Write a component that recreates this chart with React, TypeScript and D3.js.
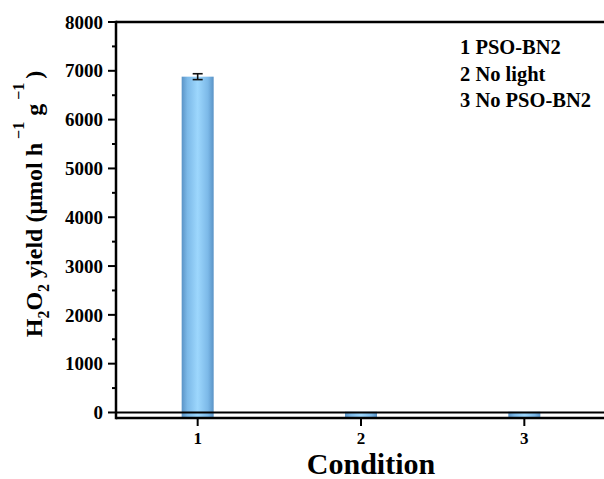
import React from "react";
import * as d3 from "d3";

const categories = [1, 2, 3];
const values = [6880, 15, 15];
const errors = [60, 0, 0];
const yTicks = [0, 1000, 2000, 3000, 4000, 5000, 6000, 7000, 8000];
const yMinorTicks = [500, 1500, 2500, 3500, 4500, 5500, 6500, 7500];
const legendLines = ["1 PSO-BN2", "2 No light", "3 No PSO-BN2"];

const W = 604;
const H = 479;
const FONT = "'Times New Roman', 'Liberation Serif', serif";

export default function App() {
  const x = d3.scaleLinear().domain([0.5, 3.5]).range([116, 606]);
  const y = d3.scaleLinear().domain([-113, 8000]).range([418, 22]);
  const barW = 32;
  const [y0, y1] = y.range();
  const [xl, xr] = x.range();

  return (
    <svg width={W} height={H} style={{ position: "absolute", left: 0, top: 0, background: "#fff" }} fontFamily={FONT}>
      <defs>
        <linearGradient id="barGrad" x1="0" x2="1" y1="0" y2="0">
          <stop offset="0%" stopColor="#5a93c6" />
          <stop offset="18%" stopColor="#7cb9e8" />
          <stop offset="50%" stopColor="#9dd7fd" />
          <stop offset="82%" stopColor="#7cb9e8" />
          <stop offset="100%" stopColor="#5a93c6" />
        </linearGradient>
      </defs>
      {categories.map((c, i) => (
        <rect key={c} x={x(c) - barW / 2} y={y(values[i])} width={barW} height={y0 - y(values[i])} fill="url(#barGrad)" />
      ))}
      {categories.map((c, i) =>
        errors[i] > 0 ? (
          <g key={"e" + c} stroke="#111" strokeWidth={1.6}>
            <line x1={x(c)} x2={x(c)} y1={y(values[i] + errors[i])} y2={y(values[i] - errors[i])} />
            <line x1={x(c) - 5} x2={x(c) + 5} y1={y(values[i] + errors[i])} y2={y(values[i] + errors[i])} />
            <line x1={x(c) - 5} x2={x(c) + 5} y1={y(values[i] - errors[i])} y2={y(values[i] - errors[i])} />
          </g>
        ) : null
      )}
      <line x1={xl} x2={xr} y1={y(0)} y2={y(0)} stroke="#000" strokeWidth={2} />
      <line x1={xl} x2={xr} y1={y1} y2={y1} stroke="#000" strokeWidth={2.5} />
      <line x1={xl} x2={xr} y1={y0} y2={y0} stroke="#000" strokeWidth={2.5} />
      <line x1={xl} x2={xl} y1={y1 - 1.2} y2={y0 + 1.2} stroke="#000" strokeWidth={2.5} />
      <line x1={xr} x2={xr} y1={y1 - 1.2} y2={y0 + 1.2} stroke="#000" strokeWidth={2.5} />
      {yTicks.map((t) => (
        <g key={t}>
          <line x1={xl - 8} x2={xl} y1={y(t)} y2={y(t)} stroke="#000" strokeWidth={2} />
          <text x={103} y={y(t)} dy="0.35em" textAnchor="end" fontSize={19} fontWeight="bold">
            {t}
          </text>
        </g>
      ))}
      {yMinorTicks.map((t) => (
        <line key={t} x1={xl - 4} x2={xl} y1={y(t)} y2={y(t)} stroke="#000" strokeWidth={2} />
      ))}
      {categories.map((c) => (
        <g key={"x" + c}>
          <line x1={x(c)} x2={x(c)} y1={y0} y2={y0 + 8} stroke="#000" strokeWidth={2} />
          <text x={x(c)} y={444} textAnchor="middle" fontSize={17} fontWeight="bold">
            {c}
          </text>
        </g>
      ))}
      <text x={371} y={474} textAnchor="middle" fontSize={30} fontWeight="bold">
        Condition
      </text>
      <text transform="translate(42,204) rotate(-90)" textAnchor="middle" fontSize={24} fontWeight="bold">
        <tspan>H</tspan>
        <tspan fontSize={16} dy={7}>2</tspan>
        <tspan dy={-7}>O</tspan>
        <tspan fontSize={16} dy={7}>2</tspan>
        <tspan dy={-7}> yield (μmol h</tspan>
        <tspan fontSize={16} dy={-18} dx={4}>−1</tspan>
        <tspan dy={18} dx={6}>g</tspan>
        <tspan fontSize={16} dy={-18} dx={4}>−1</tspan>
        <tspan dy={18} dx={4}>)</tspan>
      </text>
      {legendLines.map((l, i) => (
        <text key={l} x={460} y={54 + i * 26.7} fontSize={20.5} fontWeight="bold">
          {l}
        </text>
      ))}
    </svg>
  );
}
